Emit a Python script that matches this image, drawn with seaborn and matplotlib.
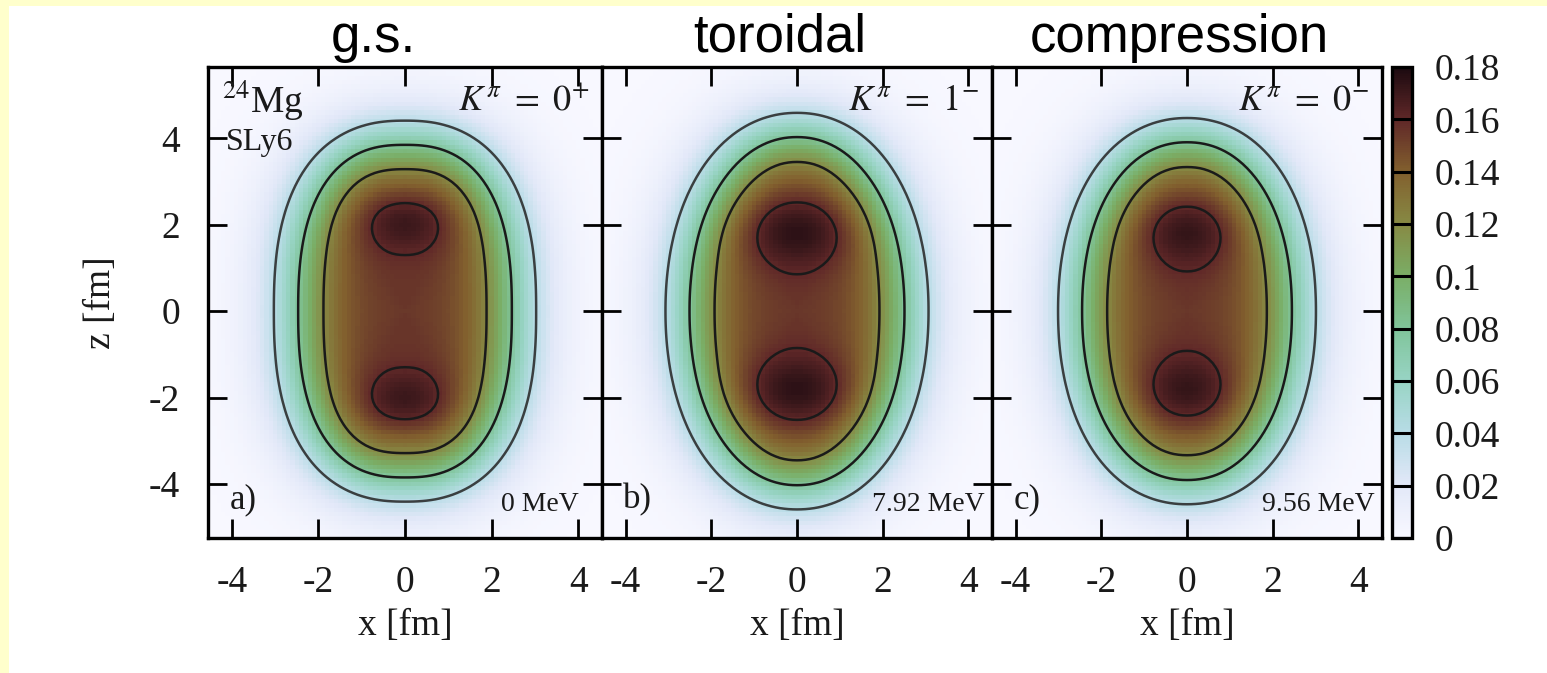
import numpy as np
import pandas as pd
import matplotlib
matplotlib.use("Agg")
import matplotlib.pyplot as plt
import seaborn as sns
from matplotlib.colors import LinearSegmentedColormap
from matplotlib.patches import Rectangle

# ------------------------------------------------------------------ data
titles = ["g.s.", "toroidal", "compression"]
panel_tags = ["a)", "b)", "c)"]
k_pi_labels = [r"$K^{\pi}\ =\ 0^{+}$", r"$K^{\pi}\ =\ 1^{-}$", r"$K^{\pi}\ =\ 0^{-}$"]
energy_labels = ["0 MeV", "7.92 MeV", "9.56 MeV"]
nucleus_label = r"$^{24}$Mg"
force_label = "SLy6"

# density-profile parameters (fm, fm^-3)
half_x = [2.50, 2.54, 2.48]        # half-density radius along x at z=0
half_z = [3.88, 4.06, 3.94]        # half-density radius along z at x=0
shape_p = [2.5, 2.1, 2.15]         # squareness of the iso-density lines
diffuseness = [0.50, 0.50, 0.50]   # surface thickness
core_density = [0.155, 0.155, 0.155]
peak_z = [2.11, 1.87, 1.86]        # z position of the two density maxima
peak_amp = [0.020, 0.022, 0.020]
peak_width_x = [0.75, 1.00, 0.80]
peak_width_z = [0.52, 0.60, 0.58]

x_grid = np.round(np.arange(-4.5, 4.51, 0.1), 2)
z_grid = np.round(np.arange(5.6, -5.21, -0.1), 2)

contour_levels = [0.04, 0.08, 0.12, 0.16]
cbar_ticks = [0, 0.02, 0.04, 0.06, 0.08, 0.1, 0.12, 0.14, 0.16, 0.18]
cbar_labels = ["0", "0.02", "0.04", "0.06", "0.08", "0.1", "0.12", "0.14", "0.16", "0.18"]
axis_ticks = [-4, -2, 0, 2, 4]

palette_colors = ["#F8F8FF", "#E2E8F8", "#B8DCE6", "#98D4C4", "#80C49A",
                  "#7AAE66", "#878A44", "#82602E", "#602828", "#1C0A10"]


# ------------------------------------------------------------------ helpers
def surface_distance(X, Z, rx, rz, p):
    """First-order signed distance to the super-ellipse |x/rx|^p + |z/rz|^p = 1."""
    u = np.abs(X) / rx
    v = np.abs(Z) / rz
    s = (u ** p + v ** p) ** (1.0 / p)
    s_safe = np.maximum(s, 1e-9)
    gx = s_safe ** (1 - p) * u ** (p - 1) / rx
    gz = s_safe ** (1 - p) * v ** (p - 1) / rz
    g = np.hypot(gx, gz)
    return np.where(s > 1e-9, (s - 1.0) / np.maximum(g, 1e-12), -rx)


def density(k):
    X, Z = np.meshgrid(x_grid, z_grid)
    d = surface_distance(X, Z, half_x[k], half_z[k], shape_p[k])
    fermi = 1.0 / (1.0 + np.exp(d / diffuseness[k]))
    bx = np.exp(-X ** 2 / (2 * peak_width_x[k] ** 2))
    bz = (np.exp(-(Z - peak_z[k]) ** 2 / (2 * peak_width_z[k] ** 2)) +
          np.exp(-(Z + peak_z[k]) ** 2 / (2 * peak_width_z[k] ** 2)))
    return fermi * (core_density[k] + peak_amp[k] * bx * bz)


vmax = cbar_ticks[-1]
cmap = LinearSegmentedColormap.from_list(
    "nuc", list(zip([t / vmax for t in cbar_ticks], palette_colors)))

dx = x_grid[1] - x_grid[0]
dz = z_grid[0] - z_grid[1]
x_edge0 = x_grid[0] - dx / 2
z_top = z_grid[0] + dz / 2


def xpos(v):
    return (v - x_edge0) / dx


def zpos(v):
    return (z_top - v) / dz


# ------------------------------------------------------------------ figure
sns.set_theme(style="white")
plt.rcParams["font.family"] = ["Liberation Serif", "DejaVu Serif"]
plt.rcParams["mathtext.fontset"] = "stix"
plt.rcParams["axes.axisbelow"] = False

W, H = 1547, 673
fig = plt.figure(figsize=(W / 100, H / 100), dpi=100)
fig.patch.set_facecolor("white")
fig.add_artist(Rectangle((0, 0), 9 / W, 1, transform=fig.transFigure,
                         color="#FFFFCC", zorder=-1, lw=0))
fig.add_artist(Rectangle((0, 1 - 6 / H), 1, 6 / H, transform=fig.transFigure,
                         color="#FFFFCC", zorder=-1, lw=0))

lefts = [208, 602, 992]
rights = [602, 992, 1382]
top_px, bot_px = 67, 538


def fig_rect(l, r, t, b):
    return [l / W, 1 - b / H, (r - l) / W, (b - t) / H]


cax = fig.add_axes(fig_rect(1392, 1412, top_px, bot_px))
title_x = [373, 780, 1179]
cb = None

for k in range(3):
    ax = fig.add_axes(fig_rect(lefts[k], rights[k], top_px, bot_px))
    rho = density(k)
    df = pd.DataFrame(rho, index=z_grid, columns=x_grid)
    sns.heatmap(df, ax=ax, cmap=cmap, vmin=0, vmax=vmax,
                cbar=(k == 2), cbar_ax=cax if k == 2 else None,
                cbar_kws={"ticks": cbar_ticks} if k == 2 else None,
                xticklabels=False, yticklabels=False, rasterized=True)
    if k == 2:
        cb = ax.collections[0].colorbar
    xi = np.arange(len(x_grid)) + 0.5
    zi = np.arange(len(z_grid)) + 0.5
    ax.contour(xi, zi, rho, levels=contour_levels,
               colors=["#3a3f40", "k", "k", "k"], linewidths=1.8)

    ax.set_axisbelow(False)
    for sp in ax.spines.values():
        sp.set_visible(True)
        sp.set_color("black")
        sp.set_linewidth(2.4)
        sp.set_zorder(5)
    ax.set_xticks([xpos(v) for v in axis_ticks])
    ax.set_xticklabels([str(v) for v in axis_ticks])
    ax.set_yticks([zpos(v) for v in axis_ticks])
    ax.set_yticklabels([str(v) for v in axis_ticks])
    ax.tick_params(direction="in", length=14, width=2.0, color="black",
                   top=True, right=True, bottom=True, left=True,
                   labelsize=27, pad=20, labelcolor="#1a1a1a")
    ax.tick_params(axis="x", labelrotation=0)
    ax.tick_params(axis="y", labelrotation=0)
    if k > 0:
        ax.tick_params(axis="y", labelleft=False)
        ax.set_ylabel("")
    else:
        ax.set_ylabel("z [fm]", fontsize=27, color="#1a1a1a")
        ax.yaxis.set_label_coords(-0.228, 0.5)
    ax.set_xlabel("x [fm]", fontsize=27, color="#1a1a1a")
    ax.xaxis.set_label_coords(0.5, -0.150)

    ax.text(0.968, 0.962, k_pi_labels[k], transform=ax.transAxes,
            ha="right", va="top", fontsize=26, color="#1a1a1a")
    ax.text(0.055, 0.045, panel_tags[k], transform=ax.transAxes,
            ha="left", va="bottom", fontsize=25, color="#1a1a1a")
    ax.text(0.982 if k > 0 else 0.94, 0.045, energy_labels[k], transform=ax.transAxes,
            ha="right", va="bottom", fontsize=20, color="#1a1a1a")
    if k == 0:
        ax.text(0.035, 0.975, nucleus_label, transform=ax.transAxes,
                ha="left", va="top", fontsize=27, color="#1a1a1a")
        ax.text(0.045, 0.87, force_label, transform=ax.transAxes,
                ha="left", va="top", fontsize=23, color="#1a1a1a")

    fig.text(title_x[k] / W, 1 - 52 / H, titles[k], ha="center", va="baseline",
             fontsize=38, family="Liberation Sans", color="black")

# colorbar styling
if cb is not None:
    cb.outline.set_visible(True)
    cb.outline.set_linewidth(2.4)
    cb.outline.set_edgecolor("black")
cax.set_axisbelow(False)
cax.set_yticks(cbar_ticks)
cax.set_yticklabels(cbar_labels)
cax.tick_params(axis="y", direction="in", length=0, width=0,
                right=True, left=False, labelsize=27, pad=16, labelcolor="#1a1a1a")
for v in cbar_ticks[1:-1]:
    cax.axhline(v, color="black", lw=2.2, zorder=6)

fig.savefig("out.png", dpi=100)
